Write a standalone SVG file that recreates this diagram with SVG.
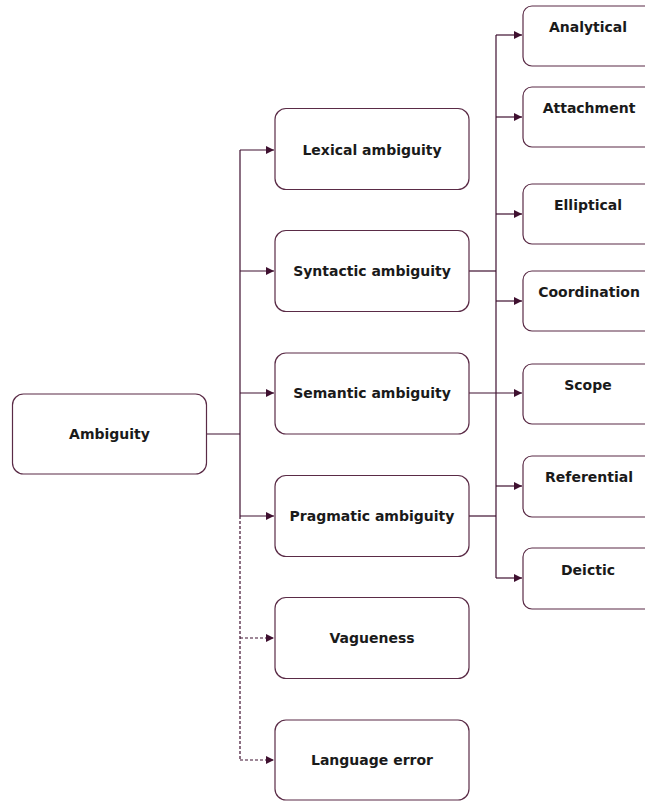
<svg xmlns="http://www.w3.org/2000/svg" width="645" height="801" viewBox="0 0 645 801">
  <style>
    .box { fill: #ffffff; stroke: #5a2b46; stroke-width: 1.2; }
    .lbl { font-family: "DejaVu Sans", Verdana, sans-serif; font-weight: bold; font-size: 14px; fill: #1a1a1a; text-anchor: middle; dominant-baseline: central; }
    .edge { fill: none; stroke: #3f1030; stroke-width: 1.2; }
    .dash { stroke-dasharray: 3 2; }
  </style>
  <defs>
    <marker id="arrow" viewBox="0 0 10 10" refX="10" refY="5" markerWidth="8" markerHeight="8" markerUnits="userSpaceOnUse" orient="auto">
      <path d="M0,0 L10,5 L0,10 z" fill="#3f1030"/>
    </marker>
  </defs>
  <rect width="645" height="801" fill="#ffffff"/>

  <g id="connectors">
    <!-- root to first-level trunk -->
    <path class="edge" d="M206.5,434 H240"/>
    <path class="edge" d="M240,150 V516"/>
    <path class="edge dash" d="M240,516 V760"/>
    <path class="edge" d="M240,150 H274" marker-end="url(#arrow)"/>
    <path class="edge" d="M240,271 H274" marker-end="url(#arrow)"/>
    <path class="edge" d="M240,393 H274" marker-end="url(#arrow)"/>
    <path class="edge" d="M240,516 H274" marker-end="url(#arrow)"/>
    <path class="edge dash" d="M240,638 H274" marker-end="url(#arrow)"/>
    <path class="edge dash" d="M240,760 H274" marker-end="url(#arrow)"/>
    <!-- second-level trunk -->
    <path class="edge" d="M468.5,271 H496"/>
    <path class="edge" d="M468.5,516 H496"/>
    <path class="edge" d="M496,35 V578"/>
    <path class="edge" d="M496,35 H522" marker-end="url(#arrow)"/>
    <path class="edge" d="M496,117 H522" marker-end="url(#arrow)"/>
    <path class="edge" d="M496,214 H522" marker-end="url(#arrow)"/>
    <path class="edge" d="M496,301 H522" marker-end="url(#arrow)"/>
    <path class="edge" d="M468.5,393 H522" marker-end="url(#arrow)"/>
    <path class="edge" d="M496,486 H522" marker-end="url(#arrow)"/>
    <path class="edge" d="M496,578 H522" marker-end="url(#arrow)"/>
  </g>

  <g id="ambiguity">
    <rect class="box" x="12.5" y="394" width="194" height="80" rx="11"/>
    <text class="lbl" x="109.5" y="434">Ambiguity</text>
  </g>

  <g id="lexical">
    <rect class="box" x="275" y="108.5" width="194" height="81" rx="11"/>
    <text class="lbl" x="372" y="150">Lexical ambiguity</text>
  </g>
  <g id="syntactic">
    <rect class="box" x="275" y="230.5" width="194" height="81" rx="11"/>
    <text class="lbl" x="372" y="271">Syntactic ambiguity</text>
  </g>
  <g id="semantic">
    <rect class="box" x="275" y="353" width="194" height="81" rx="11"/>
    <text class="lbl" x="372" y="393">Semantic ambiguity</text>
  </g>
  <g id="pragmatic">
    <rect class="box" x="275" y="475.5" width="194" height="81" rx="11"/>
    <text class="lbl" x="372" y="516">Pragmatic ambiguity</text>
  </g>
  <g id="vagueness">
    <rect class="box" x="275" y="597.5" width="194" height="81" rx="11"/>
    <text class="lbl" x="372" y="638">Vagueness</text>
  </g>
  <g id="language-error">
    <rect class="box" x="275" y="720" width="194" height="80" rx="11"/>
    <text class="lbl" x="372" y="760">Language error</text>
  </g>

  <g id="analytical">
    <rect class="box" x="523" y="6" width="140" height="60" rx="9"/>
    <text class="lbl" x="588" y="27">Analytical</text>
  </g>
  <g id="attachment">
    <rect class="box" x="523" y="87" width="140" height="60" rx="9"/>
    <text class="lbl" x="589" y="108">Attachment</text>
  </g>
  <g id="elliptical">
    <rect class="box" x="523" y="184" width="140" height="60" rx="9"/>
    <text class="lbl" x="588" y="205">Elliptical</text>
  </g>
  <g id="coordination">
    <rect class="box" x="523" y="271" width="140" height="60" rx="9"/>
    <text class="lbl" x="589" y="292">Coordination</text>
  </g>
  <g id="scope">
    <rect class="box" x="523" y="364" width="140" height="60" rx="9"/>
    <text class="lbl" x="588" y="385">Scope</text>
  </g>
  <g id="referential">
    <rect class="box" x="523" y="456" width="140" height="61" rx="9"/>
    <text class="lbl" x="589" y="477">Referential</text>
  </g>
  <g id="deictic">
    <rect class="box" x="523" y="548" width="140" height="61" rx="9"/>
    <text class="lbl" x="588" y="570">Deictic</text>
  </g>
</svg>
